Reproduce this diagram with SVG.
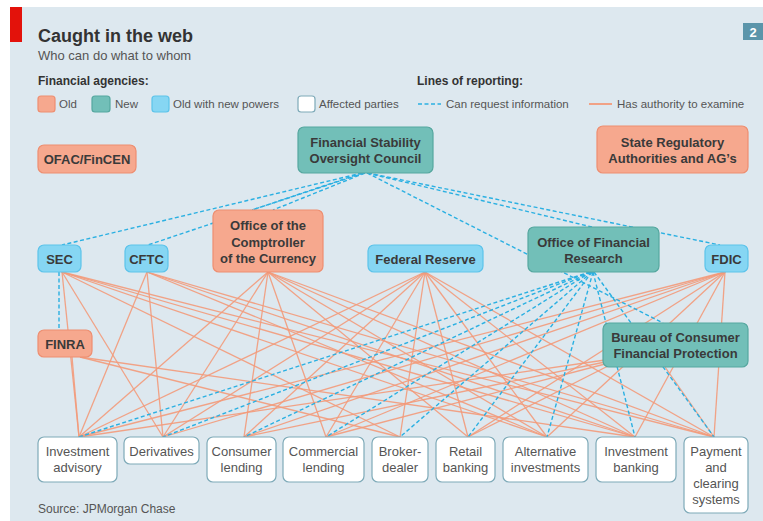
<svg xmlns="http://www.w3.org/2000/svg" width="763" height="521" viewBox="0 0 763 521">
<style>
text{font-family:"Liberation Sans","DejaVu Sans",sans-serif}
.title{font-size:18px;font-weight:bold;fill:#333}
.sub{font-size:13px;fill:#555}
.lh{font-size:12px;font-weight:bold;fill:#333}
.lt{font-size:11.5px;fill:#555}
.nt{font-size:13px;font-weight:bold;fill:#3a3a3a;text-anchor:middle}
.bt{font-size:13px;fill:#555;text-anchor:middle}
.old{fill:#f6a88e;stroke:#ee8e70;stroke-width:1.2}
.new{fill:#72bfb8;stroke:#55a79f;stroke-width:1.2}
.onp{fill:#86d6f3;stroke:#5cc3ea;stroke-width:1.2}
.aff{fill:#ffffff;stroke:#7eaab8;stroke-width:1.2}
.ex{stroke:#f39a7a;stroke-width:1.3;stroke-opacity:0.9;fill:none}
.rq{stroke:#2bb0e2;stroke-width:1.4;stroke-dasharray:4 2.5;fill:none}
</style>
<rect x="0" y="0" width="763" height="521" fill="#ffffff"/>
<rect x="10" y="7" width="753" height="514" fill="#dde8ef"/>
<rect x="10" y="7" width="12" height="35" fill="#e3120b"/>
<rect x="743" y="23" width="20" height="17" fill="#5b95aa"/>
<text x="753" y="36.5" style="font-size:13px;font-weight:bold;fill:#fff;text-anchor:middle">2</text>
<text class="title" x="38" y="42">Caught in the web</text>
<text class="sub" x="38" y="60">Who can do what to whom</text>
<g id="legend">
<text class="lh" x="38" y="85">Financial agencies:</text>
<rect class="old" x="38" y="96" width="17" height="16" rx="3"/>
<text class="lt" x="59" y="108">Old</text>
<rect class="new" x="92" y="96" width="18" height="16" rx="3"/>
<text class="lt" x="115" y="108">New</text>
<rect class="onp" x="152" y="96" width="17" height="16" rx="3"/>
<text class="lt" x="173" y="108">Old with new powers</text>
<rect class="aff" x="298" y="96" width="17" height="16" rx="3"/>
<text class="lt" x="319" y="108">Affected parties</text>
<text class="lh" x="417" y="85">Lines of reporting:</text>
<line class="rq" x1="418" y1="104" x2="441" y2="104"/>
<text class="lt" x="446" y="108">Can request information</text>
<line class="ex" x1="589" y1="104" x2="612" y2="104" style="stroke-width:2"/>
<text class="lt" x="617" y="108">Has authority to examine</text>
</g>
<g id="connectors">
<line class="ex" x1="62" y1="272" x2="79" y2="437"/>
<line class="ex" x1="62" y1="272" x2="163" y2="437"/>
<line class="ex" x1="62" y1="272" x2="400" y2="437"/>
<line class="ex" x1="62" y1="272" x2="547" y2="437"/>
<line class="ex" x1="62" y1="272" x2="635" y2="437"/>
<line class="ex" x1="62" y1="272" x2="714" y2="437"/>
<line class="ex" x1="147" y1="272" x2="79" y2="437"/>
<line class="ex" x1="147" y1="272" x2="163" y2="437"/>
<line class="ex" x1="147" y1="272" x2="547" y2="437"/>
<line class="ex" x1="147" y1="272" x2="635" y2="437"/>
<line class="ex" x1="147" y1="272" x2="714" y2="437"/>
<line class="ex" x1="268" y1="272" x2="79" y2="437"/>
<line class="ex" x1="268" y1="272" x2="163" y2="437"/>
<line class="ex" x1="268" y1="272" x2="244" y2="437"/>
<line class="ex" x1="268" y1="272" x2="326" y2="437"/>
<line class="ex" x1="268" y1="272" x2="468" y2="437"/>
<line class="ex" x1="268" y1="272" x2="547" y2="437"/>
<line class="ex" x1="268" y1="272" x2="635" y2="437"/>
<line class="ex" x1="268" y1="272" x2="714" y2="437"/>
<line class="ex" x1="425" y1="272" x2="79" y2="437"/>
<line class="ex" x1="425" y1="272" x2="163" y2="437"/>
<line class="ex" x1="425" y1="272" x2="244" y2="437"/>
<line class="ex" x1="425" y1="272" x2="326" y2="437"/>
<line class="ex" x1="425" y1="272" x2="400" y2="437"/>
<line class="ex" x1="425" y1="272" x2="468" y2="437"/>
<line class="ex" x1="425" y1="272" x2="547" y2="437"/>
<line class="ex" x1="425" y1="272" x2="635" y2="437"/>
<line class="ex" x1="425" y1="272" x2="714" y2="437"/>
<line class="ex" x1="725" y1="272" x2="79" y2="437"/>
<line class="ex" x1="725" y1="272" x2="163" y2="437"/>
<line class="ex" x1="725" y1="272" x2="244" y2="437"/>
<line class="ex" x1="725" y1="272" x2="326" y2="437"/>
<line class="ex" x1="725" y1="272" x2="468" y2="437"/>
<line class="ex" x1="725" y1="272" x2="547" y2="437"/>
<line class="ex" x1="725" y1="272" x2="635" y2="437"/>
<line class="ex" x1="725" y1="272" x2="714" y2="437"/>
<line class="ex" x1="72" y1="357" x2="79" y2="437"/>
<line class="ex" x1="80" y1="357" x2="400" y2="437"/>
<line class="ex" x1="80" y1="357" x2="635" y2="437"/>
<line class="ex" x1="605" y1="360" x2="79" y2="437"/>
<line class="ex" x1="605" y1="362" x2="244" y2="437"/>
<line class="ex" x1="605" y1="364" x2="326" y2="437"/>
<line class="ex" x1="608" y1="366" x2="468" y2="437"/>
<line class="ex" x1="665" y1="367" x2="714" y2="437"/>
<line class="rq" x1="362" y1="173" x2="62" y2="245"/>
<line class="rq" x1="362" y1="173" x2="148" y2="245"/>
<line class="rq" x1="364" y1="173" x2="252" y2="210"/>
<line class="rq" x1="365" y1="173" x2="273" y2="210"/>
<line class="rq" x1="367" y1="173" x2="663" y2="323"/>
<line class="rq" x1="367" y1="173" x2="592" y2="227"/>
<line class="rq" x1="368" y1="173" x2="720" y2="245"/>
<line class="rq" x1="59" y1="272" x2="59" y2="330"/>
<line class="rq" x1="590" y1="272" x2="79" y2="437"/>
<line class="rq" x1="590" y1="272" x2="163" y2="437"/>
<line class="rq" x1="591" y1="272" x2="244" y2="437"/>
<line class="rq" x1="591" y1="272" x2="326" y2="437"/>
<line class="rq" x1="592" y1="272" x2="400" y2="437"/>
<line class="rq" x1="592" y1="272" x2="468" y2="437"/>
<line class="rq" x1="593" y1="272" x2="547" y2="437"/>
<line class="rq" x1="593" y1="272" x2="635" y2="437"/>
<line class="rq" x1="594" y1="272" x2="714" y2="437"/>
</g>
<g id="ofac"><rect class="old" x="38" y="145" width="98" height="28" rx="6"/><text class="nt" x="87" y="164">OFAC/FinCEN</text></g>
<g id="fsoc"><rect class="new" x="298" y="127" width="135" height="46" rx="6"/><text class="nt" x="365.5" y="147">Financial Stability</text><text class="nt" x="365.5" y="163">Oversight Council</text></g>
<g id="state"><rect class="old" x="597" y="126" width="151" height="47" rx="6"/><text class="nt" x="672.5" y="147">State Regulatory</text><text class="nt" x="672.5" y="163">Authorities and AG’s</text></g>
<g id="sec"><rect class="onp" x="38" y="245" width="43" height="27" rx="6"/><text class="nt" x="59.5" y="263.5">SEC</text></g>
<g id="cftc"><rect class="onp" x="125" y="245" width="43" height="27" rx="6"/><text class="nt" x="146.5" y="263.5">CFTC</text></g>
<g id="occ"><rect class="old" x="213" y="210" width="110" height="62" rx="6"/><text class="nt" x="268" y="230">Office of the</text><text class="nt" x="268" y="247">Comptroller</text><text class="nt" x="268" y="263">of the Currency</text></g>
<g id="fed"><rect class="onp" x="368" y="245" width="115" height="27" rx="6"/><text class="nt" x="425.5" y="263.5">Federal Reserve</text></g>
<g id="ofr"><rect class="new" x="528" y="227" width="131" height="45" rx="6"/><text class="nt" x="593.5" y="247">Office of Financial</text><text class="nt" x="593.5" y="263">Research</text></g>
<g id="fdic"><rect class="onp" x="705" y="245" width="43" height="27" rx="6"/><text class="nt" x="726.5" y="263.5">FDIC</text></g>
<g id="finra"><rect class="old" x="38" y="330" width="54" height="27" rx="6"/><text class="nt" x="65" y="348.5">FINRA</text></g>
<g id="cfpb"><rect class="new" x="603" y="323" width="145" height="44" rx="6"/><text class="nt" x="675.5" y="342">Bureau of Consumer</text><text class="nt" x="675.5" y="358">Financial Protection</text></g>
<g id="ia"><rect class="aff" x="38" y="437" width="79" height="45" rx="6"/><text class="bt" x="77.5" y="456">Investment</text><text class="bt" x="77.5" y="472">advisory</text></g>
<g id="der"><rect class="aff" x="124" y="437" width="75" height="27" rx="6"/><text class="bt" x="161.5" y="456">Derivatives</text></g>
<g id="con"><rect class="aff" x="207" y="437" width="69" height="45" rx="6"/><text class="bt" x="241.5" y="456">Consumer</text><text class="bt" x="241.5" y="472">lending</text></g>
<g id="com"><rect class="aff" x="283" y="437" width="81" height="45" rx="6"/><text class="bt" x="323.5" y="456">Commercial</text><text class="bt" x="323.5" y="472">lending</text></g>
<g id="bro"><rect class="aff" x="372" y="437" width="56" height="45" rx="6"/><text class="bt" x="400" y="456">Broker-</text><text class="bt" x="400" y="472">dealer</text></g>
<g id="ret"><rect class="aff" x="436" y="437" width="59" height="45" rx="6"/><text class="bt" x="465.5" y="456">Retail</text><text class="bt" x="465.5" y="472">banking</text></g>
<g id="alt"><rect class="aff" x="503" y="437" width="85" height="45" rx="6"/><text class="bt" x="545.5" y="456">Alternative</text><text class="bt" x="545.5" y="472">investments</text></g>
<g id="ib"><rect class="aff" x="596" y="437" width="80" height="45" rx="6"/><text class="bt" x="636" y="456">Investment</text><text class="bt" x="636" y="472">banking</text></g>
<g id="pay"><rect class="aff" x="684" y="437" width="64" height="76" rx="6"/><text class="bt" x="716" y="456">Payment</text><text class="bt" x="716" y="472">and</text><text class="bt" x="716" y="488">clearing</text><text class="bt" x="716" y="504">systems</text></g>
<text x="38" y="513" style="font-size:12px;fill:#555">Source: JPMorgan Chase</text>
</svg>
